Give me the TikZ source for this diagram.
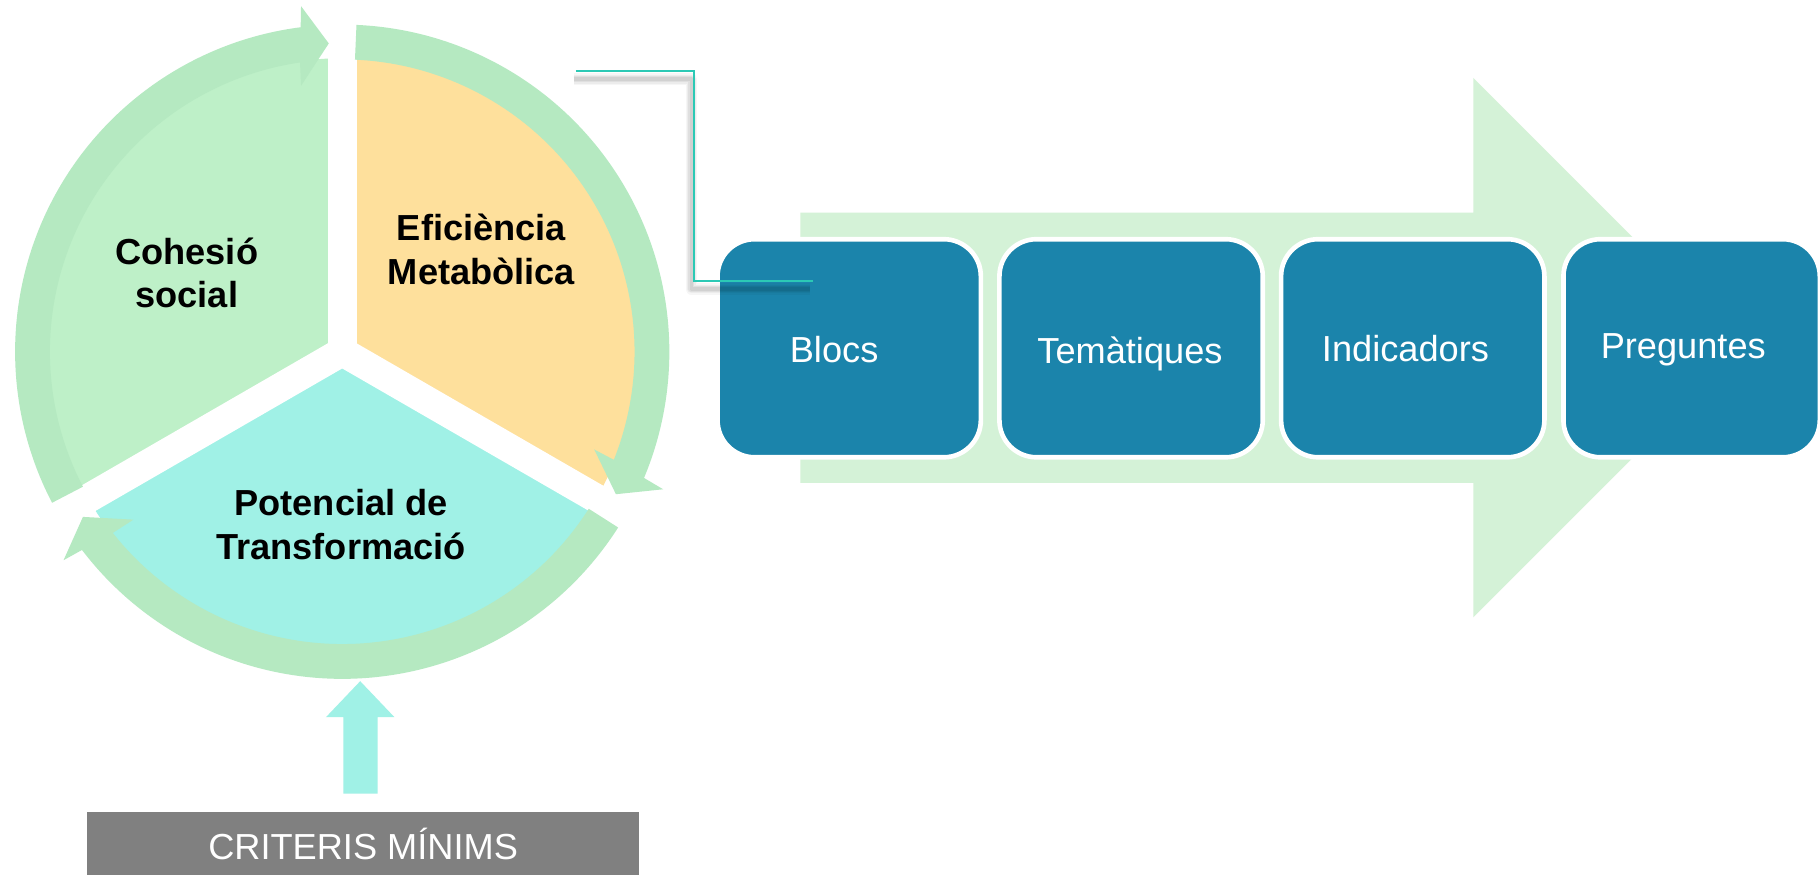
\documentclass[tikz,border=0pt]{standalone}
\usepackage{fontspec}
\setmainfont{Liberation Sans}
\usetikzlibrary{calc}
\definecolor{ringg}{HTML}{B5E9C1}
\definecolor{cohg}{HTML}{BEF0C8}
\definecolor{efio}{HTML}{FEE09C}
\definecolor{pota}{HTML}{A0F1E6}
\definecolor{bigar}{HTML}{D4F2D7}
\definecolor{boxb}{HTML}{1B84AB}
\definecolor{connc}{HTML}{2CC9B5}
\definecolor{grayb}{HTML}{808080}
\begin{document}
\begin{tikzpicture}[x=0.5pt,y=0.5pt,
  lbl/.style={font=\fontsize{15.6pt}{18.75pt}\selectfont\bfseries, align=center, inner sep=0pt, anchor=north},
  boxlbl/.style={font=\fontsize{15.6pt}{18.75pt}\selectfont, text=white, inner sep=0pt, anchor=base},
  stepbox/.style={fill=boxb, draw=white, line width=2pt, rounded corners=16pt, minimum width=113.5pt, minimum height=94pt, inner sep=0pt},
  gapline/.style={white, line width=12.5pt},
  ringarrow/.style={fill=ringg},
  shadowline/.style={black, line join=round}]
\useasboundingbox (0,0) rectangle (1568,754.2);
\fill[white] (0,0) rectangle (1568,754.2);

% big process arrow
\fill[bigar] (690,338) -- (690,571) -- (1270,571) -- (1270,687) -- (1502.5,454.5) -- (1270,222) -- (1270,338) -- cycle;

% segmented cycle
\begin{scope}[shift={(295,451)}]
  \fill[cohg] (0,0) -- (90:253) arc[start angle=90,end angle=210,radius=253] -- cycle;
  \fill[efio] (0,0) -- (-30:253) arc[start angle=-30,end angle=90,radius=253] -- cycle;
  \fill[pota] (0,0) -- (210:253) arc[start angle=210,end angle=330,radius=253] -- cycle;
  \draw[gapline] (0,0) -- (90:256);
  \draw[gapline] (0,0) -- (210:256);
  \draw[gapline] (0,0) -- (330:256);
  \fill[ringarrow] (207.5:282) arc[start angle=207.5,end angle=97.3,radius=282] -- (96.8:300) -- (92.5:266) -- (98.8:232) -- (98.3:252) arc[start angle=98.3,end angle=207.5,radius=252] -- cycle;
  \fill[ringarrow] (87.5:282) arc[start angle=87.5,end angle=-22.7,radius=282] -- (-23.2:301) -- (-27.5:266) -- (-21.2:233) -- (-21.7:252) arc[start angle=-21.7,end angle=87.5,radius=252] -- cycle;
  \fill[ringarrow] (327.5:282) arc[start angle=327.5,end angle=217.3,radius=282] -- (216.8:300) -- (212.5:265) -- (218.8:231) -- (218.3:252) arc[start angle=218.3,end angle=327.5,radius=252] -- cycle;
\end{scope}

\node[lbl] (coh) at (161,555) {\rule{0pt}{14pt}Cohesió\\social};
\node[lbl] (efi) at (415,575) {\rule{0pt}{14pt}Eficiència\\Metabòlica};
\node[lbl] (pot) at (294,338) {\rule{0pt}{14pt}Potencial de\\Transformació};

% boxes
\node[stepbox] (blocs) at (732,454) {};
\node[stepbox] (tema) at (975,454) {};
\node[stepbox] (indi) at (1217.8,454) {};
\node[stepbox, minimum width=110.5pt] (preg) at (1458.2,454) {};
\node[boxlbl] (blocsT) at (719,442) {Blocs};
\node[boxlbl] (temaT) at (974,441) {Temàtiques};
\node[boxlbl] (indiT) at (1211.5,443) {Indicadors};
\node[boxlbl] (pregT) at (1451,445) {Preguntes};

% connector with soft shadow
\coordinate (cstart) at (496.5,693);
\coordinate (cbend) at (598,693);
\coordinate (cend) at ($(blocs.west)+(84,58)$);
\foreach \w/\o in {5pt/0.035, 3.8pt/0.04, 2.6pt/0.05, 1.5pt/0.06}{
  \draw[shadowline, opacity=\o, line width=\w] ($(cstart)+(-2,-7)$) -- ($(cbend)+(-2,-7)$) |- ($(cend)+(-2,-7)$);
}
\draw[connc, line width=1pt] (cstart) -- (cbend) |- (cend);

% criteria box and arrow
\node[fill=grayb, minimum width=238pt, minimum height=29.8pt, inner sep=0pt, text=white, text height=11.2pt, text depth=0pt, font=\fontsize{15.6pt}{18.75pt}\selectfont] (crit) at (313,24.2) {CRITERIS MÍNIMS};
\fill[pota] (296,70) -- (296,136) -- (281,136) -- (310.5,167) -- (340,136) -- (325.5,136) -- (325.5,70) -- cycle;
\end{tikzpicture}
\end{document}
